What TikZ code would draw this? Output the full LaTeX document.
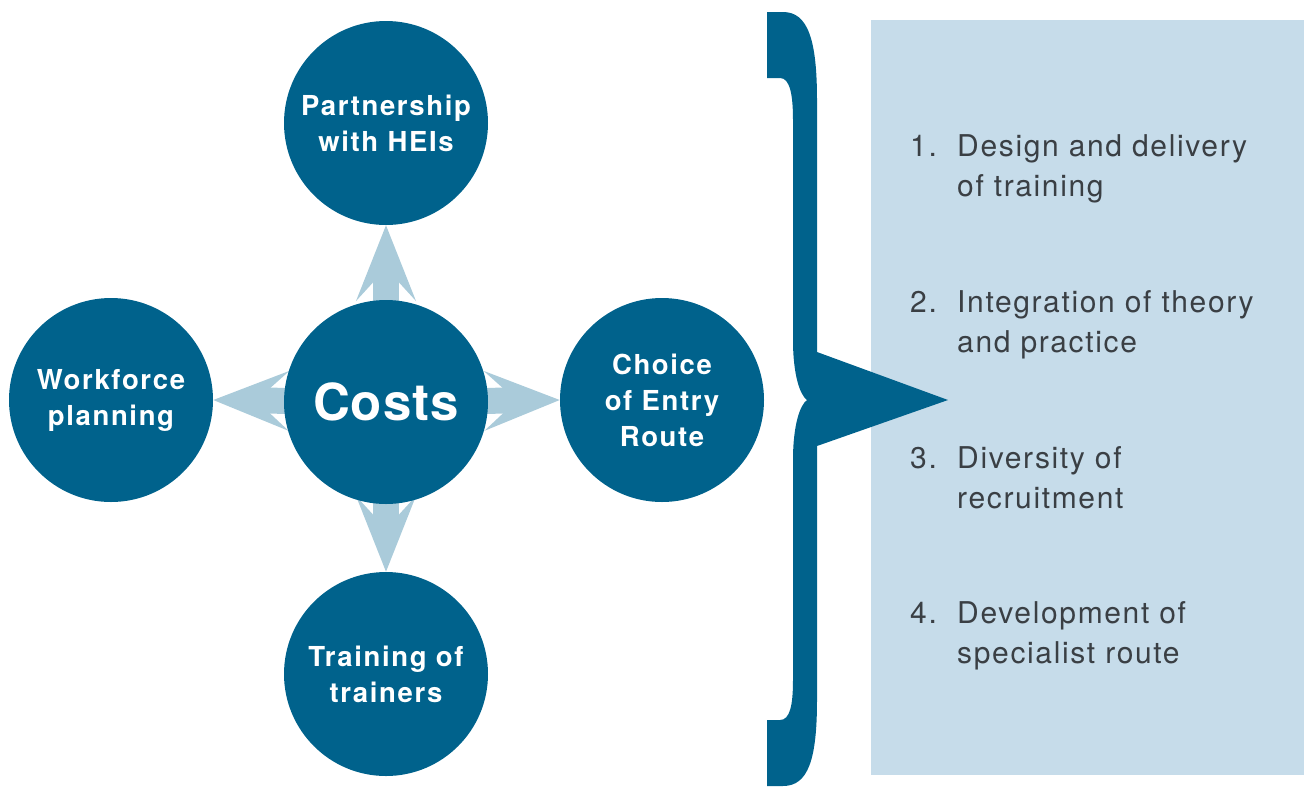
\documentclass[tikz,border=0pt]{standalone}
\usepackage{fontspec}
\setmainfont{TeX Gyre Heros}
\newfontfamily\circfont{TeX Gyre Heros}[LetterSpace=6]
\newfontfamily\listfont{TeX Gyre Heros}[LetterSpace=5.5]
\newfontfamily\costfont{TeX Gyre Heros}[LetterSpace=2]
\usetikzlibrary{arrows.meta}
\definecolor{dblue}{HTML}{00628C}
\definecolor{arrowc}{HTML}{AACBDA}
\definecolor{panelc}{HTML}{C6DCEA}
\definecolor{listc}{HTML}{3A3F44}
\pgfdeclarelayer{bg}
\pgfsetlayers{bg,main}
\tikzset{
  circ/.style={circle, fill=dblue, minimum size=204pt, inner sep=0pt, text=white,
    align=center, font=\circfont\bfseries\fontsize{27.5}{36}\selectfont},
  costc/.style={circle, fill=dblue, minimum size=204pt, inner sep=0pt, text=white,
    font=\costfont\bfseries\fontsize{51}{51}\selectfont},
  arr/.style={draw=arrowc, line width=26pt, -{Stealth[length=75pt,width=59pt,inset=32pt]}},
  panelbox/.style={fill=panelc, inner sep=0pt, minimum width=433pt, minimum height=755pt, anchor=north west},
  listline/.style={anchor=base west, inner sep=0pt, text=listc, font=\listfont\fontsize{30}{40}\selectfont}
}
\begin{document}
\begin{tikzpicture}[x=1pt,y=-1pt]
\useasboundingbox (0,0) rectangle (1304,788);
% panel
\node[panelbox] (panel) at (871,20) {};
% circles
\node[circ] (hei) at (386,123) {Partnership\\with HEIs};
\node[costc] (costs) at (386,402) {Costs};
\node[circ] (wf) at (111,400) {Workforce\\planning};
\node[circ] (entry) at (662,400) {Choice\\of Entry\\Route};
\node[circ] (tot) at (386,674) {Training of\\trainers};
% arrows
\begin{pgfonlayer}{bg}
\draw[arr] (costs.center) -- (hei.south);
\draw[arr] (costs.center) -- (tot.north);
\draw[arr] (costs.center) -- (wf.east);
\draw[arr] (costs.center) -- (entry.west);
\end{pgfonlayer}
% brace
\fill[dblue] (767,12) -- (783,12) .. controls (808,12) and (817,40) .. (817,100)
  -- (817,352) -- (948,400) -- (817,446) -- (817,700)
  .. controls (817,760) and (808,786) .. (783,786) -- (767,786) -- (767,720) -- (780,720)
  .. controls (790,720) and (793,705) .. (793,680) -- (793,460)
  .. controls (793,425) and (800,405) .. (807,400)
  .. controls (800,395) and (793,375) .. (793,340) -- (793,120)
  .. controls (793,95) and (790,78) .. (780,78) -- (767,78) -- cycle;
% list
\node[listline] (n1) at (910,156) {1.};
\node[listline] (l1a) at (957,156) {Design and delivery};
\node[listline] (l1b) at (957,196) {of training};
\node[listline] (n2) at (910,312) {2.};
\node[listline] (l2a) at (957,312) {Integration of theory};
\node[listline] (l2b) at (957,352) {and practice};
\node[listline] (n3) at (910,468) {3.};
\node[listline] (l3a) at (957,468) {Diversity of};
\node[listline] (l3b) at (957,508) {recruitment};
\node[listline] (n4) at (910,623) {4.};
\node[listline] (l4a) at (957,623) {Development of};
\node[listline] (l4b) at (957,663) {specialist route};
\end{tikzpicture}
\end{document}
